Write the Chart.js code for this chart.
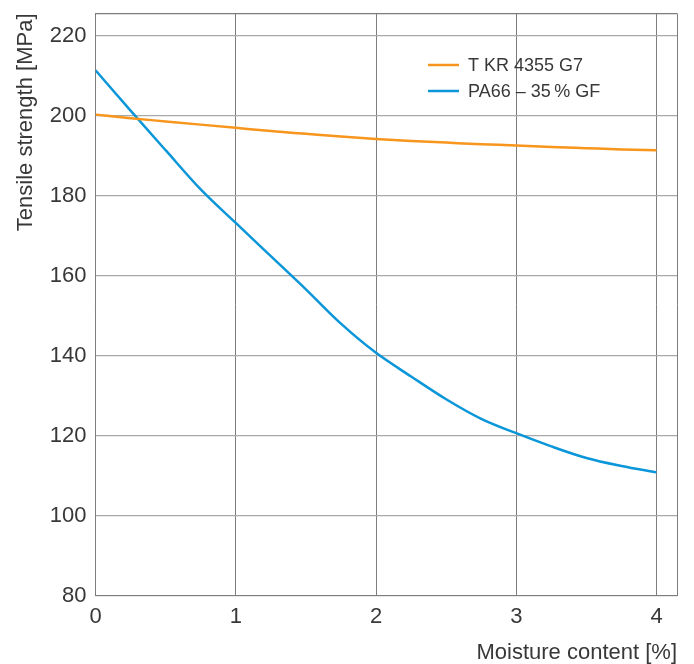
<!DOCTYPE html>
<html>
<head>
<meta charset="utf-8">
<script src="https://cdn.jsdelivr.net/npm/chart.js@4"></script>
<style>
  html, body { margin: 0; padding: 0; background: #fff; }
  #wrap { width: 694px; height: 664px; }
</style>
</head>
<body>
<div id="wrap"><canvas id="strengthChart" width="694" height="664"></canvas></div>
<script>
// Moisture content [%]
const moisture = [0, 0.25, 0.5, 0.75, 1, 1.25, 1.5, 1.75, 2, 2.25, 2.5, 2.75, 3, 3.25, 3.5, 3.75, 4];
// Tensile strength [MPa]
const tkr4355 = [200.3, 199.4, 198.6, 197.8, 197.0, 196.2, 195.5, 194.8, 194.2, 193.7, 193.3, 192.9, 192.6, 192.2, 191.9, 191.6, 191.4];
const pa66gf35 = [211.4, 201.3, 191.4, 181.6, 173.2, 164.9, 156.6, 148.0, 140.7, 134.8, 129.1, 124.2, 120.6, 117.3, 114.4, 112.4, 110.8];
const seriesNames = ['T KR 4355 G7', 'PA66 \u2013 35\u2009% GF'];
const xTicks = [0, 1, 2, 3, 4];
const yTicks = [80, 100, 120, 140, 160, 180, 200, 220];

const FONT = "'Liberation Sans', Arial, sans-serif";
const TEXT = '#383838';

// legend drawn inside the plot, top right
const innerLegend = {
    id: 'innerLegend',
    afterDraw(chart) {
        const c = chart.ctx;
        c.save();
        c.font = '18px ' + FONT;
        c.textBaseline = 'middle';
        chart.data.datasets.forEach((ds, i) => {
            const y = 65 + i * 26;
            c.strokeStyle = ds.borderColor;
            c.lineWidth = 2.5;
            c.beginPath();
            c.moveTo(428, y);
            c.lineTo(459, y);
            c.stroke();
            c.fillStyle = TEXT;
            c.fillText(ds.label, 468, y + 1);
        });
        c.restore();
    }
};

const toPoints = (ys) => moisture.map((x, i) => ({ x: x, y: ys[i] }));

const ctx = document.getElementById('strengthChart').getContext('2d');
const strengthChart = new Chart(ctx, {
    type: 'line',
    data: {
        datasets: [
            {
                label: seriesNames[0],
                data: toPoints(tkr4355),
                borderColor: '#F7951D',
                borderWidth: 2.5,
                pointRadius: 0,
                cubicInterpolationMode: 'monotone'
            },
            {
                label: seriesNames[1],
                data: toPoints(pa66gf35),
                borderColor: '#0A96D8',
                borderWidth: 2.5,
                pointRadius: 0,
                cubicInterpolationMode: 'monotone'
            }
        ]
    },
    plugins: [innerLegend],
    options: {
        responsive: false,
        animation: false,
        layout: { padding: { top: 13.5, right: 17, left: 0, bottom: 0 } },
        plugins: {
            legend: { display: false },
            tooltip: { enabled: false }
        },
        scales: {
            x: {
                type: 'linear',
                min: 0,
                max: 4.146,
                afterFit: (s) => { s.height = 68.5; s.paddingLeft = 0; s.paddingRight = 0; },
                afterBuildTicks: (s) => {
                    s.ticks = xTicks.map(v => ({ value: v })).concat([{ value: 4.146 }]);
                },
                ticks: {
                    padding: 8,
                    maxRotation: 0,
                    autoSkip: false,
                    color: TEXT,
                    font: { family: FONT, size: 22 },
                    callback: (v) => xTicks.includes(v) ? String(v) : ''
                },
                grid: { color: '#7d7d7d', lineWidth: 1, drawTicks: false },
                border: { color: '#7d7d7d' },
                title: {
                    display: true,
                    text: 'Moisture content [%]',
                    align: 'end',
                    color: TEXT,
                    font: { family: FONT, size: 22 },
                    padding: { top: 0, bottom: -2.5 }
                }
            },
            y: {
                min: 80,
                max: 225.6,
                afterFit: (s) => { s.width = 95.5; s.paddingTop = 0; s.paddingBottom = 0; },
                afterBuildTicks: (s) => {
                    s.ticks = yTicks.map(v => ({ value: v })).concat([{ value: 225.6 }]);
                },
                ticks: {
                    padding: 9,
                    color: TEXT,
                    font: { family: FONT, size: 22 },
                    callback: (v) => yTicks.includes(v) ? String(v) : ''
                },
                grid: {
                    color: (c) => c.tick && c.tick.value > 221 ? '#7d7d7d' : '#a9a9a9',
                    lineWidth: 1.2,
                    drawTicks: false
                },
                border: { color: '#7d7d7d' },
                title: {
                    display: true,
                    text: 'Tensile strength [MPa]',
                    align: 'end',
                    color: TEXT,
                    font: { family: FONT, size: 22 },
                    padding: { top: 13, bottom: 0 }
                }
            }
        }
    }
});
</script>
</body>
</html>
